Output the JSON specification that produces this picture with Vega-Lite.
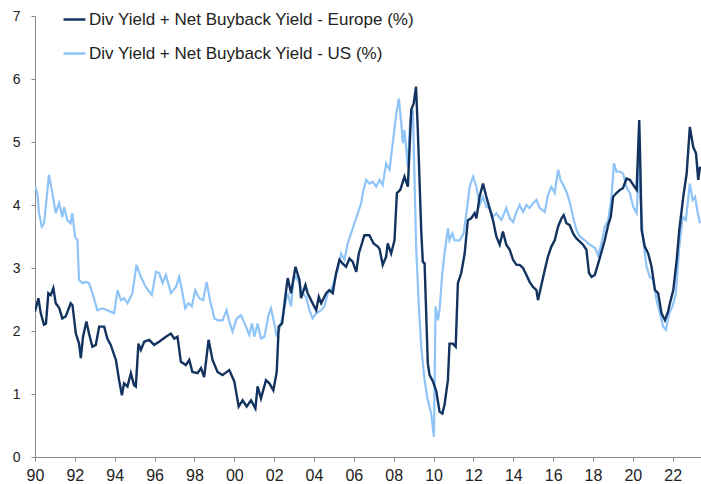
{
  "$schema": "https://vega.github.io/schema/vega-lite/v6.json",
  "width": 666,
  "height": 441,
  "autosize": {"type": "none"},
  "padding": {"left": 35, "top": 16, "right": 0, "bottom": 27},
  "background": "white",
  "config": {
    "view": {"stroke": null},
    "font": "Liberation Sans",
    "axis": {"grid": false, "domainColor": "#8a8a8a", "tickColor": "#8a8a8a", "labelFont": "Liberation Sans", "labelColor": "#222222", "title": null}
  },
  "datasets": {
    "eu": [
      {"year":1990.00,"v":2.31},{"year":1990.17,"v":2.52},{"year":1990.29,"v":2.28},{"year":1990.45,"v":2.10},{"year":1990.55,"v":2.12},{"year":1990.67,"v":2.60},{"year":1990.79,"v":2.57},{"year":1990.92,"v":2.68},{"year":1991.04,"v":2.44},{"year":1991.21,"v":2.37},{"year":1991.37,"v":2.20},{"year":1991.54,"v":2.23},{"year":1991.79,"v":2.44},{"year":1991.88,"v":2.41},{"year":1992.05,"v":1.96},{"year":1992.21,"v":1.80},{"year":1992.30,"v":1.57},{"year":1992.41,"v":1.91},{"year":1992.58,"v":2.15},{"year":1992.71,"v":1.96},{"year":1992.88,"v":1.75},{"year":1993.05,"v":1.78},{"year":1993.22,"v":2.07},{"year":1993.47,"v":2.07},{"year":1993.63,"v":1.88},{"year":1993.80,"v":1.78},{"year":1994.06,"v":1.54},{"year":1994.22,"v":1.22},{"year":1994.36,"v":0.98},{"year":1994.47,"v":1.17},{"year":1994.64,"v":1.12},{"year":1994.81,"v":1.33},{"year":1994.97,"v":1.14},{"year":1995.06,"v":1.12},{"year":1995.19,"v":1.80},{"year":1995.31,"v":1.70},{"year":1995.48,"v":1.83},{"year":1995.73,"v":1.86},{"year":1995.98,"v":1.78},{"year":1996.23,"v":1.83},{"year":1996.57,"v":1.91},{"year":1996.82,"v":1.96},{"year":1996.99,"v":1.88},{"year":1997.15,"v":1.91},{"year":1997.32,"v":1.51},{"year":1997.57,"v":1.46},{"year":1997.74,"v":1.54},{"year":1997.90,"v":1.35},{"year":1998.16,"v":1.33},{"year":1998.33,"v":1.41},{"year":1998.49,"v":1.27},{"year":1998.71,"v":1.86},{"year":1998.91,"v":1.54},{"year":1999.16,"v":1.35},{"year":1999.41,"v":1.30},{"year":1999.75,"v":1.38},{"year":2000.00,"v":1.20},{"year":2000.22,"v":0.80},{"year":2000.42,"v":0.90},{"year":2000.62,"v":0.80},{"year":2000.84,"v":0.90},{"year":2001.06,"v":0.77},{"year":2001.17,"v":1.12},{"year":2001.34,"v":0.93},{"year":2001.59,"v":1.22},{"year":2001.76,"v":1.17},{"year":2001.96,"v":1.06},{"year":2002.13,"v":1.35},{"year":2002.23,"v":2.07},{"year":2002.40,"v":2.12},{"year":2002.56,"v":2.54},{"year":2002.68,"v":2.84},{"year":2002.85,"v":2.60},{"year":2003.07,"v":3.02},{"year":2003.27,"v":2.81},{"year":2003.35,"v":2.52},{"year":2003.57,"v":2.73},{"year":2003.68,"v":2.60},{"year":2003.85,"v":2.49},{"year":2004.11,"v":2.33},{"year":2004.24,"v":2.54},{"year":2004.36,"v":2.44},{"year":2004.61,"v":2.60},{"year":2004.77,"v":2.65},{"year":2004.94,"v":2.60},{"year":2005.11,"v":2.92},{"year":2005.28,"v":3.13},{"year":2005.44,"v":3.07},{"year":2005.61,"v":3.02},{"year":2005.78,"v":3.15},{"year":2005.94,"v":3.10},{"year":2006.12,"v":2.94},{"year":2006.25,"v":3.23},{"year":2006.53,"v":3.52},{"year":2006.78,"v":3.52},{"year":2006.99,"v":3.39},{"year":2007.20,"v":3.34},{"year":2007.29,"v":3.30},{"year":2007.45,"v":3.05},{"year":2007.62,"v":3.18},{"year":2007.70,"v":3.39},{"year":2007.87,"v":3.23},{"year":2008.04,"v":3.44},{"year":2008.16,"v":4.19},{"year":2008.33,"v":4.24},{"year":2008.54,"v":4.45},{"year":2008.71,"v":4.29},{"year":2008.88,"v":5.51},{"year":2009.00,"v":5.61},{"year":2009.12,"v":5.88},{"year":2009.21,"v":5.19},{"year":2009.38,"v":3.60},{"year":2009.46,"v":3.10},{"year":2009.55,"v":3.07},{"year":2009.63,"v":2.28},{"year":2009.71,"v":1.49},{"year":2009.80,"v":1.30},{"year":2009.97,"v":1.20},{"year":2010.14,"v":1.04},{"year":2010.30,"v":0.72},{"year":2010.44,"v":0.69},{"year":2010.55,"v":0.83},{"year":2010.72,"v":1.22},{"year":2010.80,"v":1.80},{"year":2010.97,"v":1.80},{"year":2011.11,"v":1.75},{"year":2011.22,"v":2.76},{"year":2011.39,"v":2.92},{"year":2011.56,"v":3.23},{"year":2011.72,"v":3.76},{"year":2011.89,"v":3.79},{"year":2012.06,"v":3.87},{"year":2012.15,"v":3.79},{"year":2012.31,"v":4.13},{"year":2012.48,"v":4.34},{"year":2012.65,"v":4.13},{"year":2012.81,"v":3.95},{"year":2012.98,"v":3.76},{"year":2013.15,"v":3.50},{"year":2013.32,"v":3.37},{"year":2013.48,"v":3.58},{"year":2013.65,"v":3.37},{"year":2013.82,"v":3.29},{"year":2013.99,"v":3.13},{"year":2014.16,"v":3.05},{"year":2014.32,"v":3.05},{"year":2014.49,"v":3.00},{"year":2014.66,"v":2.89},{"year":2014.82,"v":2.78},{"year":2014.99,"v":2.70},{"year":2015.16,"v":2.65},{"year":2015.24,"v":2.49},{"year":2015.41,"v":2.73},{"year":2015.58,"v":2.97},{"year":2015.74,"v":3.18},{"year":2015.91,"v":3.34},{"year":2016.08,"v":3.44},{"year":2016.25,"v":3.66},{"year":2016.42,"v":3.79},{"year":2016.53,"v":3.84},{"year":2016.67,"v":3.71},{"year":2016.83,"v":3.68},{"year":2017.00,"v":3.55},{"year":2017.17,"v":3.47},{"year":2017.34,"v":3.42},{"year":2017.50,"v":3.37},{"year":2017.67,"v":3.29},{"year":2017.80,"v":2.92},{"year":2017.93,"v":2.86},{"year":2018.09,"v":2.89},{"year":2018.26,"v":3.07},{"year":2018.43,"v":3.26},{"year":2018.59,"v":3.44},{"year":2018.76,"v":3.68},{"year":2018.89,"v":3.81},{"year":2019.01,"v":4.13},{"year":2019.18,"v":4.19},{"year":2019.35,"v":4.24},{"year":2019.51,"v":4.27},{"year":2019.68,"v":4.42},{"year":2019.85,"v":4.40},{"year":2020.02,"v":4.32},{"year":2020.19,"v":4.24},{"year":2020.32,"v":5.35},{"year":2020.37,"v":4.71},{"year":2020.44,"v":3.60},{"year":2020.60,"v":3.34},{"year":2020.77,"v":3.23},{"year":2020.94,"v":3.02},{"year":2021.11,"v":2.65},{"year":2021.27,"v":2.60},{"year":2021.44,"v":2.28},{"year":2021.61,"v":2.17},{"year":2021.77,"v":2.31},{"year":2021.86,"v":2.44},{"year":2022.03,"v":2.65},{"year":2022.20,"v":3.13},{"year":2022.33,"v":3.60},{"year":2022.53,"v":4.13},{"year":2022.70,"v":4.50},{"year":2022.86,"v":5.24},{"year":2023.03,"v":4.92},{"year":2023.17,"v":4.82},{"year":2023.28,"v":4.40},{"year":2023.37,"v":4.61}
    ],
    "us": [
      {"year":1990.00,"v":4.29},{"year":1990.12,"v":4.19},{"year":1990.20,"v":3.87},{"year":1990.34,"v":3.66},{"year":1990.45,"v":3.71},{"year":1990.54,"v":3.97},{"year":1990.70,"v":4.48},{"year":1990.87,"v":4.19},{"year":1991.04,"v":3.87},{"year":1991.21,"v":4.03},{"year":1991.37,"v":3.81},{"year":1991.46,"v":3.97},{"year":1991.62,"v":3.76},{"year":1991.79,"v":3.71},{"year":1991.87,"v":3.87},{"year":1992.01,"v":3.50},{"year":1992.13,"v":3.44},{"year":1992.21,"v":2.81},{"year":1992.38,"v":2.76},{"year":1992.55,"v":2.78},{"year":1992.71,"v":2.76},{"year":1992.88,"v":2.60},{"year":1993.13,"v":2.33},{"year":1993.38,"v":2.36},{"year":1993.63,"v":2.33},{"year":1993.97,"v":2.28},{"year":1994.14,"v":2.65},{"year":1994.31,"v":2.49},{"year":1994.47,"v":2.52},{"year":1994.64,"v":2.44},{"year":1994.89,"v":2.60},{"year":1995.09,"v":3.05},{"year":1995.31,"v":2.86},{"year":1995.56,"v":2.70},{"year":1995.86,"v":2.57},{"year":1996.07,"v":2.94},{"year":1996.23,"v":2.92},{"year":1996.40,"v":2.76},{"year":1996.57,"v":2.89},{"year":1996.82,"v":2.60},{"year":1997.07,"v":2.70},{"year":1997.24,"v":2.86},{"year":1997.37,"v":2.65},{"year":1997.54,"v":2.36},{"year":1997.70,"v":2.44},{"year":1997.87,"v":2.39},{"year":1998.04,"v":2.65},{"year":1998.24,"v":2.52},{"year":1998.44,"v":2.49},{"year":1998.61,"v":2.78},{"year":1998.78,"v":2.49},{"year":1999.00,"v":2.20},{"year":1999.16,"v":2.17},{"year":1999.41,"v":2.17},{"year":1999.61,"v":2.33},{"year":1999.78,"v":2.12},{"year":1999.91,"v":1.99},{"year":2000.12,"v":2.20},{"year":2000.34,"v":2.25},{"year":2000.59,"v":2.07},{"year":2000.75,"v":1.94},{"year":2000.89,"v":2.12},{"year":2001.01,"v":1.91},{"year":2001.17,"v":2.12},{"year":2001.34,"v":1.88},{"year":2001.51,"v":1.91},{"year":2001.72,"v":2.25},{"year":2001.84,"v":2.36},{"year":2002.01,"v":2.12},{"year":2002.13,"v":1.91},{"year":2002.30,"v":2.07},{"year":2002.46,"v":2.26},{"year":2002.56,"v":2.44},{"year":2002.68,"v":2.60},{"year":2002.85,"v":2.39},{"year":2002.96,"v":2.81},{"year":2003.10,"v":2.86},{"year":2003.27,"v":2.76},{"year":2003.43,"v":2.60},{"year":2003.60,"v":2.54},{"year":2003.77,"v":2.33},{"year":2003.93,"v":2.20},{"year":2004.11,"v":2.28},{"year":2004.36,"v":2.33},{"year":2004.52,"v":2.39},{"year":2004.69,"v":2.60},{"year":2004.86,"v":2.65},{"year":2005.03,"v":2.81},{"year":2005.19,"v":2.97},{"year":2005.36,"v":3.23},{"year":2005.53,"v":3.13},{"year":2005.69,"v":3.39},{"year":2005.86,"v":3.55},{"year":2006.03,"v":3.71},{"year":2006.20,"v":3.87},{"year":2006.37,"v":4.03},{"year":2006.45,"v":4.19},{"year":2006.62,"v":4.40},{"year":2006.78,"v":4.34},{"year":2006.95,"v":4.37},{"year":2007.12,"v":4.29},{"year":2007.29,"v":4.40},{"year":2007.45,"v":4.32},{"year":2007.62,"v":4.66},{"year":2007.79,"v":4.56},{"year":2007.95,"v":4.98},{"year":2008.13,"v":5.45},{"year":2008.26,"v":5.69},{"year":2008.38,"v":5.30},{"year":2008.46,"v":4.98},{"year":2008.54,"v":5.19},{"year":2008.71,"v":4.61},{"year":2008.83,"v":5.35},{"year":2008.96,"v":5.51},{"year":2009.13,"v":3.30},{"year":2009.26,"v":2.40},{"year":2009.38,"v":1.75},{"year":2009.55,"v":1.22},{"year":2009.71,"v":0.90},{"year":2009.88,"v":0.69},{"year":2010.02,"v":0.32},{"year":2010.10,"v":2.39},{"year":2010.22,"v":2.17},{"year":2010.30,"v":2.33},{"year":2010.44,"v":2.92},{"year":2010.55,"v":3.23},{"year":2010.72,"v":3.63},{"year":2010.80,"v":3.44},{"year":2010.94,"v":3.55},{"year":2011.06,"v":3.44},{"year":2011.31,"v":3.44},{"year":2011.51,"v":3.55},{"year":2011.67,"v":3.92},{"year":2011.81,"v":4.29},{"year":2011.98,"v":4.45},{"year":2012.15,"v":4.29},{"year":2012.31,"v":4.00},{"year":2012.48,"v":4.13},{"year":2012.65,"v":3.97},{"year":2012.81,"v":3.95},{"year":2012.98,"v":3.81},{"year":2013.15,"v":3.87},{"year":2013.40,"v":3.76},{"year":2013.65,"v":3.95},{"year":2013.82,"v":3.79},{"year":2013.99,"v":3.73},{"year":2014.16,"v":3.89},{"year":2014.32,"v":4.00},{"year":2014.49,"v":3.89},{"year":2014.66,"v":4.00},{"year":2014.82,"v":3.95},{"year":2014.99,"v":4.03},{"year":2015.16,"v":4.08},{"year":2015.33,"v":3.95},{"year":2015.58,"v":3.89},{"year":2015.74,"v":4.16},{"year":2015.91,"v":4.29},{"year":2016.08,"v":4.19},{"year":2016.25,"v":4.56},{"year":2016.37,"v":4.40},{"year":2016.50,"v":4.32},{"year":2016.67,"v":4.21},{"year":2016.83,"v":4.05},{"year":2017.00,"v":3.81},{"year":2017.17,"v":3.60},{"year":2017.34,"v":3.50},{"year":2017.59,"v":3.44},{"year":2017.84,"v":3.37},{"year":2018.09,"v":3.32},{"year":2018.26,"v":3.20},{"year":2018.43,"v":3.40},{"year":2018.59,"v":3.65},{"year":2018.76,"v":3.76},{"year":2018.93,"v":4.13},{"year":2019.05,"v":4.66},{"year":2019.18,"v":4.53},{"year":2019.35,"v":4.53},{"year":2019.51,"v":4.50},{"year":2019.68,"v":4.29},{"year":2019.85,"v":4.19},{"year":2020.02,"v":3.97},{"year":2020.19,"v":3.87},{"year":2020.32,"v":4.71},{"year":2020.39,"v":4.08},{"year":2020.52,"v":3.44},{"year":2020.69,"v":3.02},{"year":2020.85,"v":2.86},{"year":2021.02,"v":2.81},{"year":2021.19,"v":2.49},{"year":2021.36,"v":2.28},{"year":2021.52,"v":2.07},{"year":2021.66,"v":2.02},{"year":2021.82,"v":2.28},{"year":2021.99,"v":2.39},{"year":2022.16,"v":2.60},{"year":2022.33,"v":3.34},{"year":2022.50,"v":3.81},{"year":2022.66,"v":3.76},{"year":2022.86,"v":4.34},{"year":2023.00,"v":4.08},{"year":2023.12,"v":4.13},{"year":2023.23,"v":3.92},{"year":2023.37,"v":3.71}
    ]
  },
  "encoding": {
    "x": {
      "field": "year", "type": "quantitative",
      "scale": {"domain": [1990, 2023.42], "nice": false, "zero": false},
      "axis": {"values": [1990,1992,1994,1996,1998,2000,2002,2004,2006,2008,2010,2012,2014,2016,2018,2020,2022], "labelExpr": "slice(datum.value + '', 2)", "tickSize": 4, "labelPadding": 6, "labelFontSize": 16, "labelFlush": false}
    },
    "y": {
      "field": "v", "type": "quantitative",
      "scale": {"domain": [0, 7], "nice": false},
      "axis": {"values": [0,1,2,3,4,5,6,7], "tickSize": 4, "labelPadding": 11, "labelFontSize": 14, "labelFlush": false}
    },
    "color": {
      "datum": "x", "type": "nominal",
      "scale": {"domain": ["Div Yield + Net Buyback Yield - Europe (%)", "Div Yield + Net Buyback Yield - US (%)"], "range": ["#12335f", "#8fc4f7"]},
      "legend": {"orient": "none", "legendX": 27, "legendY": -9, "title": null, "symbolType": "stroke", "symbolStrokeWidth": 2.5, "symbolSize": 480, "labelFontSize": 17, "labelFont": "Liberation Sans", "labelColor": "#222222", "labelLimit": 0, "rowPadding": 13, "labelOffset": 2, "padding": 0}
    }
  },
  "layer": [
    {"data": {"name": "us"}, "mark": {"type": "line", "strokeWidth": 2.2, "clip": true}, "encoding": {"color": {"datum": "Div Yield + Net Buyback Yield - US (%)", "type": "nominal"}}},
    {"data": {"name": "eu"}, "mark": {"type": "line", "strokeWidth": 2.4, "clip": true}, "encoding": {"color": {"datum": "Div Yield + Net Buyback Yield - Europe (%)", "type": "nominal"}}}
  ]
}
